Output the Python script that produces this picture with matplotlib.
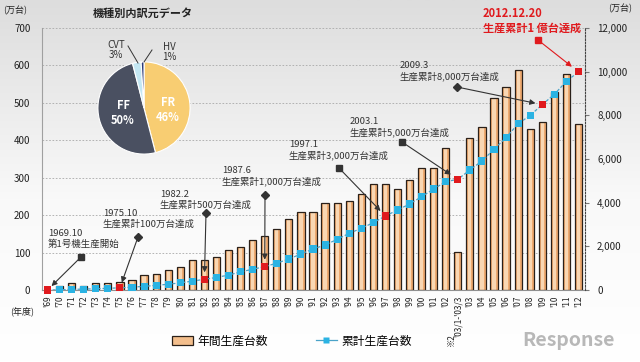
import numpy as np
import matplotlib
matplotlib.use('Agg')
import matplotlib.pyplot as plt
from matplotlib.patches import Patch
from matplotlib.lines import Line2D
from matplotlib.colors import LinearSegmentedColormap

plt.rcParams['font.family'] = ['Noto Sans CJK JP', 'DejaVu Sans']

# ---------------- data ----------------
years = ["'69", "'70", "'71", "'72", "'73", "'74", "'75", "'76", "'77", "'78",
         "'79", "'80", "'81", "'82", "'83", "'84", "'85", "'86", "'87", "'88",
         "'89", "'90", "'91", "'92", "'93", "'94", "'95", "'96", "'97", "'98",
         "'99", "'00", "'01", "'02", "'03/1-'03/3", "'03", "'04", "'05", "'06",
         "'07", "'08", "'09", "'10", "'11", "'12"]
special_note = "※2"
annual = [1, 11, 18, 12, 18, 18, 22, 27, 39, 44,
          53, 61, 79, 80, 89, 106, 116, 134, 143, 164,
          189, 209, 209, 232, 233, 238, 256, 282, 282, 269,
          294, 327, 327, 380, 101, 405, 436, 514, 542,
          589, 430, 448, 530, 577, 443]
cumulative = [0, 11, 29, 41, 59, 77, 100, 127, 167, 212,
              265, 326, 406, 490, 575, 685, 830, 950, 1070, 1230,
              1420, 1649, 1878, 2061, 2321, 2595, 2824, 3084, 3389, 3664,
              3939, 4275, 4626, 4962, 5069, 5497, 5909, 6443, 6985,
              7610, 8000, 8490, 8962, 9560, 9990]
milestones = ["'69", "'75", "'82", "'87", "'97", "'03/1-'03/3", "'09", "'12"]
milestone_texts = ["1969.10\n第1号機生産開始",
                   "1975.10\n生産累計100万台達成",
                   "1982.2\n生産累計500万台達成",
                   "1987.6\n生産累計1,000万台達成",
                   "1997.1\n生産累計3,000万台達成",
                   "2003.1\n生産累計5,000万台達成",
                   "2009.3\n生産累計8,000万台達成",
                   "2012.12.20\n生産累計1 億台達成"]
pie_labels = ['FR', 'FF', 'CVT', 'HV']
pie_shares = [46, 50, 3, 1]
left_ticks = [0, 100, 200, 300, 400, 500, 600, 700]
right_ticks = [0, 2000, 4000, 6000, 8000, 10000, 12000]

# ---------------- layout helpers ----------------
W, H = 640, 362
fig = plt.figure(figsize=(W / 100, H / 100), dpi=100)
def fx(px): return px / W
def fy(py): return 1 - py / H

# background gradient
bg = fig.add_axes([0, 0, 1, 1], zorder=-5)
cmap = LinearSegmentedColormap.from_list('bg', [(0, '#dddddd'), (0.55, '#f9f9f9'), (1, '#ffffff')])
bg.imshow(np.linspace(0, 1, 256).reshape(-1, 1), aspect='auto', cmap=cmap,
          extent=[0, 1, 0, 1], origin='upper')
bg.axis('off')

ax = fig.add_axes([fx(41.5), fy(290), (584.5 - 41.5) / W, (290 - 28) / H])
ax.patch.set_alpha(0)
x = np.arange(len(years))
ax.set_xlim(-0.5, len(years) - 0.5)
ax.set_ylim(0, 700)

ax.bar(x, annual, width=0.6, color='#EEAA70', edgecolor='none', zorder=2)
ax.bar(x, annual, width=0.26, color='#F9D7B3', edgecolor='none', zorder=2.1)
ax.bar(x, annual, width=0.6, facecolor='none', edgecolor='#2a2019', lw=0.9, zorder=2.2)

ax.set_yticks(left_ticks)
ax.set_yticklabels([str(v) for v in left_ticks], fontsize=7, color='#222222')
ax.yaxis.grid(True, color='#a8a8a8', ls=(0, (2, 2)), lw=0.6)
ax.set_axisbelow(True)
ax.tick_params(axis='y', length=0, pad=8)
ax.set_xticks(x)
ax.set_xticklabels(years, rotation=90, fontsize=6, color='#222222')
ax.tick_params(axis='x', length=0, pad=4)
ax.spines['top'].set_visible(False)
ax.spines['left'].set_color('#a0a0a0')
ax.spines['bottom'].set_color('#909090')
ax.spines['right'].set_visible(False)

# footnote mark beside the special period label
fig.text(fx(451), fy(340), special_note, rotation=90, fontsize=6, color='#222222',
         ha='center', va='center')

ax2 = ax.twinx()
ax2.set_ylim(0, 12000)
ax2.set_yticks(right_ticks)
ax2.set_yticklabels([f'{v:,}' for v in right_ticks], fontsize=7, color='#222222')
ax2.tick_params(axis='y', length=3, pad=6, color='#777777')
ax2.spines['right'].set_linestyle((0, (1.5, 1.5)))
ax2.spines['right'].set_color('#444444')
for s in ['top', 'left', 'bottom']:
    ax2.spines[s].set_visible(False)

ax2.plot(x, cumulative, color='#4aa3c8', lw=0.9, ls=(0, (2.5, 1.5)), zorder=3)
mcols = ['#E01A1E' if y in milestones else '#2BB3E3' for y in years]
ax2.scatter(x, cumulative, marker='s', s=26, c=mcols, edgecolors='none', zorder=4, clip_on=False)

# ---------------- annotations ----------------
# (text x, text center y, start marker x, y, marker, shrinkB, colour) in pixels
ann_layout = [(48, 239, 81, 257, 's', 4, '#333333'),
              (103, 219, 138, 237, 'D', 4, '#333333'),
              (160, 200, 206, 213, 'D', 5, '#333333'),
              (222, 176, 265, 195, 'D', 5, '#333333'),
              (289, 150, 339, 168, 's', 5, '#333333'),
              (350, 127, 402, 142, 's', 6, '#333333'),
              (400, 71, 457, 87, 'D', 5, '#333333'),
              (483, 21, 538, 40, 's', 6, '#E01A1E')]
for m, txt, (tx, ty, sx, sy, mk, sb, c) in zip(milestones, milestone_texts, ann_layout):
    i = years.index(m)
    red = c != '#333333'
    fig.text(fx(tx), fy(ty), txt, ha='left', va='center',
             fontsize=8 if red else 6.8, color=c, weight='bold' if red else 'normal',
             linespacing=1.25)
    ax2.annotate('', xy=(i, cumulative[i]), xycoords='data',
                 xytext=(fx(sx), fy(sy)), textcoords='figure fraction',
                 arrowprops=dict(arrowstyle='-|>', color=c, lw=0.8,
                                 mutation_scale=8, shrinkA=0, shrinkB=sb),
                 annotation_clip=False, zorder=5)
    fig.add_artist(Line2D([fx(sx)], [fy(sy)], marker=mk, ms=4 if mk == 's' else 3.8,
                          color=c, transform=fig.transFigure, zorder=6))

# ---------------- pie ----------------
pax = fig.add_axes([fx(97), fy(155), 94 / W, 94 / H])
pax.pie(pie_shares, colors=['#F8CD72', '#4A5061', '#C3E7F3', '#2D3B78'],
        startangle=90, counterclock=False,
        wedgeprops=dict(edgecolor='white', linewidth=0.8))
pax.set_xlim(-1.02, 1.02)
pax.set_ylim(-1.02, 1.02)
pax.set_aspect('equal')
fig.text(fx(93), fy(13), '機種別内訳元データ', fontsize=8, weight='bold', va='center', color='#222222')
fig.text(fx(168), fy(110), f'{pie_labels[0]}\n{pie_shares[0]}%', fontsize=8, weight='bold',
         color='white', ha='center', va='center', linespacing=1.2)
fig.text(fx(123), fy(113), f'{pie_labels[1]}\n{pie_shares[1]}%', fontsize=8, weight='bold',
         color='white', ha='center', va='center', linespacing=1.2)
fig.text(fx(116), fy(50), f'{pie_labels[2]}\n{pie_shares[2]}%', fontsize=7, color='#333333',
         ha='center', va='center', linespacing=1.1)
fig.text(fx(169), fy(52), f'{pie_labels[3]}\n{pie_shares[3]}%', fontsize=7, color='#333333',
         ha='center', va='center', linespacing=1.1)
fig.add_artist(Line2D([fx(128), fx(138)], [fy(46), fy(63)], color='#333333', lw=0.7,
                      transform=fig.transFigure))
fig.add_artist(Line2D([fx(152), fx(144)], [fy(50), fy(62)], color='#333333', lw=0.7,
                      transform=fig.transFigure))

# ---------------- labels, legend ----------------
fig.text(fx(3), fy(10), '(万台)', fontsize=6.5, va='center', color='#222222')
fig.text(fx(608), fy(8), '(万台)', fontsize=6.5, va='center', color='#222222')
fig.text(fx(10), fy(311), '(年度)', fontsize=6.5, va='center', color='#222222')

handles = [Patch(facecolor='#F3BE8C', edgecolor='#2a2019', lw=0.9),
           Line2D([0], [0], color='#4aa3c8', lw=0.9, marker='s', ms=5,
                  markerfacecolor='#2BB3E3', markeredgecolor='none')]
fig.legend(handles, ['年間生産台数', '累計生産台数'], loc='center',
           bbox_to_anchor=(fx(292), fy(341)), ncol=2, frameon=False,
           fontsize=8.5, columnspacing=4, handlelength=1.8, handletextpad=0.4)

fig.text(fx(522), fy(341), 'Response', fontsize=14, color='#b8b8b8', weight='bold', va='center')

fig.savefig('out.png', dpi=100)
